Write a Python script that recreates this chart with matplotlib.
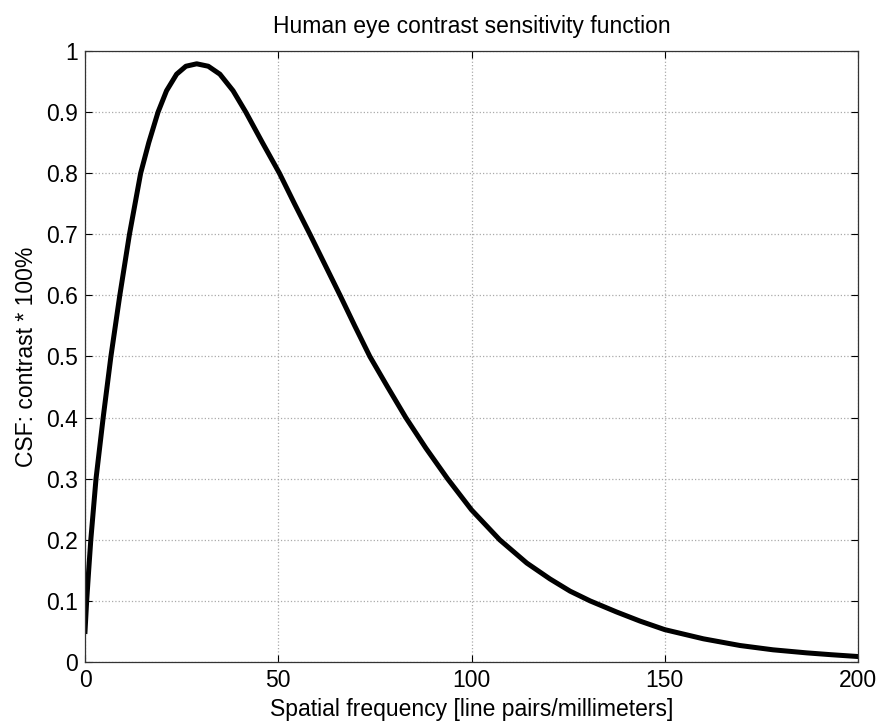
import matplotlib
matplotlib.use('Agg')
import matplotlib.pyplot as plt

# values
freq = [0, 0.43, 0.95, 1.5, 2.85, 4.7, 6.7, 9.0, 11.5, 14.4, 16.5, 18.9, 21.1, 23.7,
        26.1, 28.9, 31.9, 34.9, 38.3, 41.6, 45.9, 50.3, 54.2, 58.2, 62.1, 66,
        69.8, 73.7, 78.3, 83.0, 88.2, 93.8, 100, 107.3, 114.3, 120.3, 125.5, 130.7,
        137.5, 143.6, 150, 160, 169.5, 178, 186.7, 193, 200]
csf = [0.05, 0.10, 0.15, 0.20, 0.30, 0.40, 0.50, 0.60, 0.70, 0.80, 0.85, 0.90,
       0.935, 0.962, 0.975, 0.979, 0.975, 0.962, 0.935, 0.90, 0.85, 0.80, 0.75,
       0.70, 0.65, 0.60, 0.55, 0.50, 0.45, 0.40, 0.35, 0.30, 0.249, 0.20, 0.162,
       0.136, 0.116, 0.10, 0.082, 0.067, 0.053, 0.038, 0.027, 0.020, 0.015, 0.012,
       0.009]

xticks = [0, 50, 100, 150, 200]
yticks = [0, 0.1, 0.2, 0.3, 0.4, 0.5, 0.6, 0.7, 0.8, 0.9, 1]
ytick_labels = ['0', '0.1', '0.2', '0.3', '0.4', '0.5', '0.6', '0.7', '0.8', '0.9', '1']

plt.rcParams['font.family'] = ['Liberation Sans', 'DejaVu Sans']

fig = plt.figure(figsize=(8.8, 7.24), dpi=100)
ax = fig.add_axes([0.0966, 0.0856, 0.8784, 0.844])

ax.plot(freq, csf, color='black', linewidth=3.6, solid_joinstyle='round')

ax.set_xlim(0, 200)
ax.set_ylim(0, 1)
ax.set_xticks(xticks)
ax.set_xticklabels([str(t) for t in xticks])
ax.set_yticks(yticks)
ax.set_yticklabels(ytick_labels)
ax.tick_params(direction='in', length=5, width=0.8, top=True, right=True,
               labelsize=16.5, pad=5)
for s in ax.spines.values():
    s.set_linewidth(0.9)
    s.set_color('#333333')

ax.grid(True, linestyle=':', color='#aaaaaa', linewidth=0.9)

ax.set_title("Human eye contrast sensitivity function", fontsize=16.5, pad=13)
ax.set_xlabel("Spatial frequency [line pairs/millimeters]", fontsize=16.5, labelpad=4)
ax.set_ylabel("CSF: contrast * 100%", fontsize=16.5, labelpad=6)

fig.savefig('out.png', dpi=100)
